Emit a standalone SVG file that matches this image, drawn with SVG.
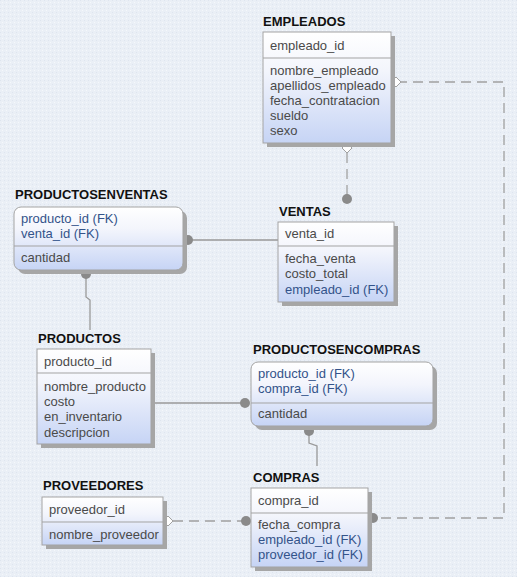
<svg xmlns="http://www.w3.org/2000/svg" width="517" height="577" viewBox="0 0 517 577">
  <defs>
    <pattern id="bg" width="4" height="4" patternUnits="userSpaceOnUse">
      <rect width="4" height="4" fill="#eaeff6"/>
      <rect x="0" y="0" width="1" height="1" fill="#dee5ef"/>
      <rect x="2" y="2" width="1" height="1" fill="#f5f8fb"/>
    </pattern>
    <linearGradient id="fill" x1="0" y1="0" x2="0" y2="1">
      <stop offset="0" stop-color="#ffffff"/>
      <stop offset="0.35" stop-color="#f3f5fc"/>
      <stop offset="1" stop-color="#c6d4f5"/>
    </linearGradient>
    <style>
      .box { fill: url(#fill); stroke: #a3a3a3; stroke-width: 1; }
      .shadow { fill: #a6a6a6; }
      .div { stroke: #a3a3a3; stroke-width: 1; }
      .title { font-family: "Liberation Sans", Arial, sans-serif; font-size: 13px; font-weight: bold; fill: #111; }
      .attr { font-family: "Liberation Sans", Arial, sans-serif; font-size: 13px; fill: #4a4a4a; }
      .fk { font-family: "Liberation Sans", Arial, sans-serif; font-size: 13px; fill: #33538a; }
      .solid { fill: none; stroke: #999; stroke-width: 1.3; }
      .dash { fill: none; stroke: #a0a0a0; stroke-width: 1.3; stroke-dasharray: 10 6; }
      .dot { fill: #8a8a8a; }
      .dia { fill: #ffffff; stroke: #a0a0a0; stroke-width: 1; }
    </style>
  </defs>
  <rect width="517" height="577" fill="url(#bg)"/>

  <g id="connectors">
    <path class="dash" d="M397,82 H504 V518 H373"/>
    <path class="dash" d="M347,153 V199"/>
    <path class="solid" d="M188,240 H278"/>
    <path class="solid" d="M86,274 V297 L90,300 V330"/>
    <path class="solid" d="M151,403 H245"/>
    <path class="solid" d="M309,431 V443 L317,446 V466"/>
    <path class="dash" d="M173,521 H246"/>
    <path class="dia" d="M391,82 L396,77 L401,82 L396,87 Z"/>
    <path class="dia" d="M347,143 L352,148 L347,153 L342,148 Z"/>
    <path class="dia" d="M163,521 L168,516 L173,521 L168,526 Z"/>
    <circle class="dot" cx="373" cy="518" r="5"/>
    <circle class="dot" cx="347" cy="199" r="5"/>
    <circle class="dot" cx="188" cy="240" r="5"/>
    <circle class="dot" cx="86" cy="274" r="5"/>
    <circle class="dot" cx="245" cy="403" r="5"/>
    <circle class="dot" cx="309" cy="431" r="5"/>
    <circle class="dot" cx="246" cy="521" r="5"/>
  </g>

  <g id="empleados">
    <rect class="shadow" x="267" y="36" width="128" height="111"/>
    <rect class="box" x="263" y="32" width="128" height="111"/>
    <line class="div" x1="263" y1="58" x2="391" y2="58"/>
    <text class="title" x="263" y="26">EMPLEADOS</text>
    <text class="attr" x="270" y="50">empleado_id</text>
    <text class="attr" x="270" y="75">nombre_empleado</text>
    <text class="attr" x="270" y="90">apellidos_empleado</text>
    <text class="attr" x="270" y="105">fecha_contratacion</text>
    <text class="attr" x="270" y="120">sueldo</text>
    <text class="attr" x="270" y="135">sexo</text>
  </g>

  <g id="ventas">
    <rect class="shadow" x="282" y="226" width="116" height="80"/>
    <rect class="box" x="278" y="222" width="116" height="80"/>
    <line class="div" x1="278" y1="246" x2="394" y2="246"/>
    <text class="title" x="279" y="216">VENTAS</text>
    <text class="attr" x="285" y="238">venta_id</text>
    <text class="attr" x="285" y="263">fecha_venta</text>
    <text class="attr" x="285" y="278">costo_total</text>
    <text class="fk" x="285" y="294">empleado_id (FK)</text>
  </g>

  <g id="productosenventas">
    <rect class="shadow" x="18" y="211" width="169" height="63" rx="7"/>
    <rect class="box" x="14" y="207" width="169" height="63" rx="7"/>
    <line class="div" x1="14" y1="246" x2="183" y2="246"/>
    <text class="title" x="15" y="199">PRODUCTOSENVENTAS</text>
    <text class="fk" x="21" y="223">producto_id (FK)</text>
    <text class="fk" x="21" y="238">venta_id (FK)</text>
    <text class="attr" x="21" y="262">cantidad</text>
  </g>

  <g id="productos">
    <rect class="shadow" x="41" y="353" width="114" height="95"/>
    <rect class="box" x="37" y="349" width="114" height="95"/>
    <line class="div" x1="37" y1="373" x2="151" y2="373"/>
    <text class="title" x="38" y="343">PRODUCTOS</text>
    <text class="attr" x="44" y="366">producto_id</text>
    <text class="attr" x="44" y="391">nombre_producto</text>
    <text class="attr" x="44" y="406">costo</text>
    <text class="attr" x="44" y="421">en_inventario</text>
    <text class="attr" x="44" y="437">descripcion</text>
  </g>

  <g id="productosencompras">
    <rect class="shadow" x="255" y="366" width="182" height="64" rx="7"/>
    <rect class="box" x="251" y="362" width="182" height="64" rx="7"/>
    <line class="div" x1="251" y1="403" x2="433" y2="403"/>
    <text class="title" x="253" y="354">PRODUCTOSENCOMPRAS</text>
    <text class="fk" x="258" y="378">producto_id (FK)</text>
    <text class="fk" x="258" y="393">compra_id (FK)</text>
    <text class="attr" x="258" y="418">cantidad</text>
  </g>

  <g id="compras">
    <rect class="shadow" x="255" y="492" width="117" height="79"/>
    <rect class="box" x="251" y="488" width="117" height="79"/>
    <line class="div" x1="251" y1="513" x2="368" y2="513"/>
    <text class="title" x="253" y="482">COMPRAS</text>
    <text class="attr" x="258" y="505">compra_id</text>
    <text class="attr" x="258" y="529">fecha_compra</text>
    <text class="fk" x="258" y="544">empleado_id (FK)</text>
    <text class="fk" x="258" y="559">proveedor_id (FK)</text>
  </g>

  <g id="proveedores">
    <rect class="shadow" x="46" y="501" width="121" height="48"/>
    <rect class="box" x="42" y="497" width="121" height="48"/>
    <line class="div" x1="42" y1="522" x2="163" y2="522"/>
    <text class="title" x="43" y="490">PROVEEDORES</text>
    <text class="attr" x="49" y="514">proveedor_id</text>
    <text class="attr" x="49" y="539">nombre_proveedor</text>
  </g>
</svg>
